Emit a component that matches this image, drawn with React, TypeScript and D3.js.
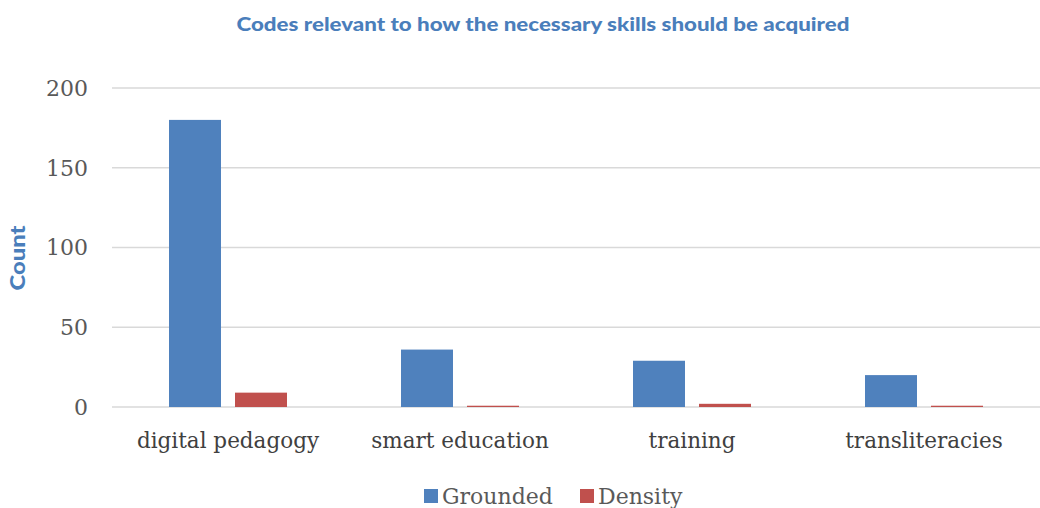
import React from "react";
import * as d3 from "d3";

const categories = ["digital pedagogy", "smart education", "training", "transliteracies"];
const seriesNames = ["Grounded", "Density"];
const grounded = [180, 36, 29, 20];
const density = [9, 0.8, 2, 0.8];
const yTicks = [0, 50, 100, 150, 200];
const colors = ["#4f81bd", "#c0504d"];

const W = 1040;
const H = 508;
const left = 112;
const right = 1040;
const top = 88;
const bottom = 407;

export default function App() {
  const x0 = d3.scaleBand<string>().domain(categories).range([left, right]).paddingInner(0).paddingOuter(0);
  const x1 = d3.scaleBand<string>().domain(seriesNames).range([57, 232 - 57]).paddingInner(14 / 66);
  const y = d3.scaleLinear().domain([0, 200]).range([bottom, top]);
  const values = [grounded, density];
  const serif = "'DejaVu Serif', serif";
  return (
    <svg width={W} height={H} style={{ position: "absolute", left: 0, top: 0, background: "#fff" }}>
      <text x={543} y={31} textAnchor="middle" fill="#4a7ebb" fontFamily="Lato, sans-serif" fontWeight="900" fontSize={18} textLength={613} lengthAdjust="spacingAndGlyphs">
        Codes relevant to how the necessary skills should be acquired
      </text>
      {yTicks.map((t) => (
        <g key={t}>
          <line x1={left} x2={right} y1={y(t)} y2={y(t)} stroke="#d9d9d9" strokeWidth={1.3} />
          <text x={88} y={y(t)} dy="0.36em" textAnchor="end" fill="#595959" fontFamily={serif} fontSize={22}>
            {t}
          </text>
        </g>
      ))}
      <text transform={`translate(25,${258}) rotate(-90)`} textAnchor="middle" fill="#4a7ebb" fontFamily="Lato, sans-serif" fontWeight="900" fontSize={21} textLength={65} lengthAdjust="spacingAndGlyphs">
        Count
      </text>
      {categories.map((c, i) => (
        <g key={c}>
          {seriesNames.map((s, j) => (
            <rect
              key={s}
              x={(x0(c) as number) + (x1(s) as number)}
              y={y(values[j][i])}
              width={x1.bandwidth()}
              height={bottom - y(values[j][i])}
              fill={colors[j]}
            />
          ))}
          <text x={(x0(c) as number) + x0.bandwidth() / 2} y={448} textAnchor="middle" fill="#404040" fontFamily={serif} fontSize={21.5}>
            {c}
          </text>
        </g>
      ))}
      {seriesNames.map((s, j) => {
        const lx = [424, 580][j];
        return (
          <g key={s}>
            <rect x={lx} y={489} width={14} height={14} fill={colors[j]} />
            <text x={lx + 18} y={504} fill="#595959" fontFamily={serif} fontSize={22}>
              {s}
            </text>
          </g>
        );
      })}
    </svg>
  );
}
